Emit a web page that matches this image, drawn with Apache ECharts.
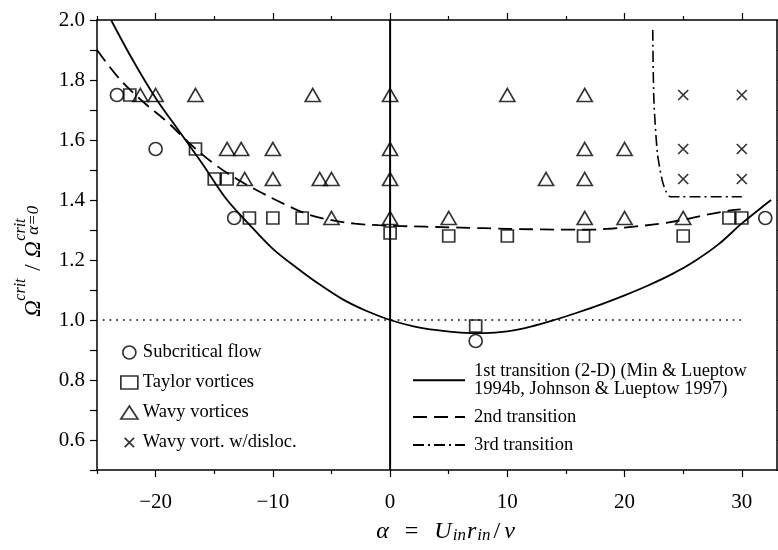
<!DOCTYPE html>
<html><head><meta charset="utf-8">
<script src="https://cdn.jsdelivr.net/npm/echarts@6/dist/echarts.min.js"></script>
<style>html,body{margin:0;padding:0;background:#fff}#c{width:778px;height:550px}</style>
</head><body><div id="c"></div>
<script>
// ---- data ----
const subcritical = [[-23.3,1.75],[-20,1.57],[-13.3,1.34],[7.3,0.93],[32,1.34]];
const taylor = [[-22.2,1.75],[-16.6,1.57],[-15,1.47],[-13.9,1.47],[-12,1.34],[-10,1.34],[-7.5,1.34],
  [0,1.29],[5,1.28],[10,1.28],[16.5,1.28],[25,1.28],[28.9,1.34],[30,1.34],[7.3,0.98]];
const wavy = [[-21.3,1.75],[-20,1.75],[-16.6,1.75],[-6.6,1.75],[0,1.75],[10,1.75],[16.6,1.75],
  [-13.9,1.57],[-12.7,1.57],[-10,1.57],[0,1.57],[16.6,1.57],[20,1.57],
  [-12.4,1.47],[-10,1.47],[-6,1.47],[-5,1.47],[0,1.47],[13.3,1.47],[16.6,1.47],
  [-5,1.34],[0,1.34],[5,1.34],[16.6,1.34],[20,1.34],[25,1.34]];
const wavyDisloc = [[25,1.75],[30,1.75],[25,1.57],[30,1.57],[25,1.47],[30,1.47]];
const firstTransition = [[-23.8,2.0],[-22,1.87],[-20,1.74],[-18,1.63],[-16,1.52],[-14,1.405],[-12,1.318],
  [-10,1.237],[-8,1.175],[-6,1.118],[-4,1.068],[-2,1.03],[0,1.0],[2,0.979],[4,0.966],[6,0.958],[8,0.956],
  [10,0.962],[12,0.978],[14,1.0],[16,1.025],[18,1.052],[20,1.082],[22,1.115],[24,1.152],[26,1.197],
  [28,1.252],[30,1.322],[32,1.385],[32.5,1.40]];
const secondTransition = [[-25,1.9],[-23,1.80],[-21,1.725],[-19,1.66],[-17,1.585],[-15,1.52],[-13,1.468],
  [-11,1.425],[-9,1.386],[-7,1.352],[-5,1.333],[-3,1.321],[-1,1.316],[1,1.313],[3,1.311],[5,1.309],
  [7,1.307],[9,1.305],[11,1.303],[13,1.302],[15,1.301],[17,1.301],[19,1.305],[21,1.312],[23,1.321],
  [25,1.334],[27,1.351],[29,1.365],[29.9,1.369]];
const thirdTransition = [[22.4,1.967],[22.5,1.733],[22.8,1.556],[23.2,1.467],[23.5,1.431],[23.9,1.411],[30,1.411]];
const unityLine = [[-24.5,1.0],[30,1.0]];
const zeroLine = [[0,0.5],[0,2.0]];
const xMajorTicks = [-20,-10,0,10,20,30];
const xMinorTicks = [-25,-15,-5,5,15,25];
const legendScatter = ['Subcritical flow','Taylor vortices','Wavy vortices','Wavy vort. w/disloc.'];
const legendLines = ['1st transition (2-D) (Min & Lueptow\n1994b, Johnson & Lueptow 1997)','2nd transition','3rd transition'];

// ---- chart ----
const F = 'Liberation Serif';
const BLACK = '#000';
const chart = echarts.init(document.getElementById('c'), null, {renderer:'canvas'});
const hollow = {color:'rgba(0,0,0,0)', borderColor:BLACK, borderWidth:1.7};
const crossPath = 'path://M2,2L12,12M12,2L2,12M0,0M14,14';
function xAxisDef(pos, ticks, len, showLine, showLabel, extra) {
  return Object.assign({
    type:'value', min:-25, max:33, position:pos,
    axisLine:{show:showLine, onZero:false, lineStyle:{color:BLACK, width:1.5}},
    axisTick:{show:true, inside:false, length:len, customValues:ticks, lineStyle:{color:BLACK, width:1.2}},
    axisLabel:{show:showLabel, customValues:ticks, margin:22, fontFamily:F, fontSize:21, color:BLACK,
      formatter: v => v < 0 ? '\u2212' + Math.abs(v) : String(v)},
    splitLine:{show:false}
  }, extra || {});
}
const option = {
  animation:false,
  backgroundColor:'#fff',
  grid:{left:97, right:1, top:20, bottom:80},
  xAxis:[
    xAxisDef('bottom', xMajorTicks, 7, true, true, {
      name:'{a|α}{b|  =  }{a|U}{s|in}{a|r}{s|in}{b|/}{a|ν}', nameLocation:'middle', nameGap:50,
      nameTextStyle:{padding:[0,0,0,17], rich:{
        a:{fontFamily:F, fontStyle:'italic', fontSize:24, lineHeight:24, color:BLACK, padding:[0,1,0,1]},
        b:{fontFamily:F, fontSize:24, lineHeight:24, color:BLACK, padding:[0,3,0,3]},
        s:{fontFamily:F, fontStyle:'italic', fontSize:17, lineHeight:14, verticalAlign:'bottom', color:BLACK}
      }}
    }),
    xAxisDef('bottom', xMinorTicks, 4, false, false),
    xAxisDef('top', xMajorTicks, 7, true, false),
    xAxisDef('top', xMinorTicks, 4, false, false)
  ],
  yAxis:[
    {type:'value', min:0.5, max:2.0, interval:0.1, position:'left',
      axisLine:{show:true, onZero:false, lineStyle:{color:BLACK, width:1.5}},
      axisTick:{show:true, inside:false, length:7, lineStyle:{color:BLACK, width:1.2}},
      axisLabel:{margin:12, fontFamily:F, fontSize:21, color:BLACK,
        formatter: v => { const k = Math.round(v*10); return k % 2 === 0 ? (k/10).toFixed(1) : ''; }},
      splitLine:{show:false}},
    {type:'value', min:0.5, max:2.0, interval:0.1, position:'right',
      axisLine:{show:true, onZero:false, lineStyle:{color:BLACK, width:1.5}},
      axisTick:{show:true, inside:false, length:5, lineStyle:{color:BLACK, width:1.2}},
      axisLabel:{show:false}, splitLine:{show:false}}
  ],
  legend:[
    {data:legendScatter, orient:'vertical', left:115, top:338, itemWidth:17, itemHeight:13, itemGap:11,
      selectedMode:false, itemStyle:{borderWidth:1.7},
      textStyle:{fontFamily:F, fontSize:18.5, color:BLACK, padding:[0,0,0,0]}},
    {data:legendLines, orient:'vertical', left:407, top:357, itemWidth:52, itemHeight:14, itemGap:9,
      selectedMode:false, itemStyle:{color:'rgba(0,0,0,0)', borderWidth:0, opacity:0},
      textStyle:{fontFamily:F, fontSize:18.5, lineHeight:17.5, color:BLACK, padding:[0,0,0,4]}}
  ],
  series:[
    {name:'zero', type:'line', data:zeroLine, symbol:'none', silent:true,
      lineStyle:{color:BLACK, width:2}},
    {name:'unity', type:'line', data:unityLine, symbol:'none', silent:true,
      lineStyle:{color:BLACK, width:1.7, type:[1.7,5]}},
    {name:legendLines[0], type:'line', data:firstTransition, symbol:'none', smooth:0.35, silent:true,
      itemStyle:{color:BLACK}, lineStyle:{color:BLACK, width:1.8, type:'solid'}},
    {name:legendLines[1], type:'line', data:secondTransition, symbol:'none', smooth:0.35, silent:true,
      itemStyle:{color:BLACK}, lineStyle:{color:BLACK, width:1.8, type:[14,7]}},
    {name:legendLines[2], type:'line', data:thirdTransition, symbol:'none', smooth:0.25, silent:true,
      itemStyle:{color:BLACK}, lineStyle:{color:BLACK, width:1.6, type:[11,4,2,4]}},
    {name:legendScatter[0], type:'scatter', data:subcritical, symbol:'circle', symbolSize:13, itemStyle:hollow, z:5, silent:true},
    {name:legendScatter[1], type:'scatter', data:taylor, symbol:'rect', symbolSize:12, itemStyle:hollow, z:5, silent:true},
    {name:legendScatter[2], type:'scatter', data:wavy, symbol:'triangle', symbolSize:[15,13], itemStyle:hollow, z:5, silent:true},
    {name:legendScatter[3], type:'scatter', data:wavyDisloc, symbol:crossPath, symbolSize:14, itemStyle:hollow, z:5, silent:true}
  ],
  graphic:[
    {type:'group', x:41.7, y:316.7, rotation:Math.PI/2, silent:true, children:[
      {type:'text', x:0, y:-8, style:{text:'Ω', font:'italic 23px "Liberation Serif"', fill:BLACK, textAlign:'left', textVerticalAlign:'middle'}},
      {type:'text', x:16, y:-20.5, style:{text:'crit', font:'italic 16px "Liberation Serif"', fill:BLACK, textAlign:'left', textVerticalAlign:'middle'}},
      {type:'text', x:46, y:-8, style:{text:'/', font:'23px "Liberation Serif"', fill:BLACK, textAlign:'left', textVerticalAlign:'middle'}},
      {type:'text', x:59, y:-8, style:{text:'Ω', font:'italic 23px "Liberation Serif"', fill:BLACK, textAlign:'left', textVerticalAlign:'middle'}},
      {type:'text', x:76, y:-20.5, style:{text:'crit', font:'italic 16px "Liberation Serif"', fill:BLACK, textAlign:'left', textVerticalAlign:'middle'}},
      {type:'text', x:82, y:-8.5, style:{text:'α=0', font:'italic 17px "Liberation Serif"', fill:BLACK, textAlign:'left', textVerticalAlign:'middle'}}
    ]}
  ]
};
chart.setOption(option);
</script>
</body></html>
